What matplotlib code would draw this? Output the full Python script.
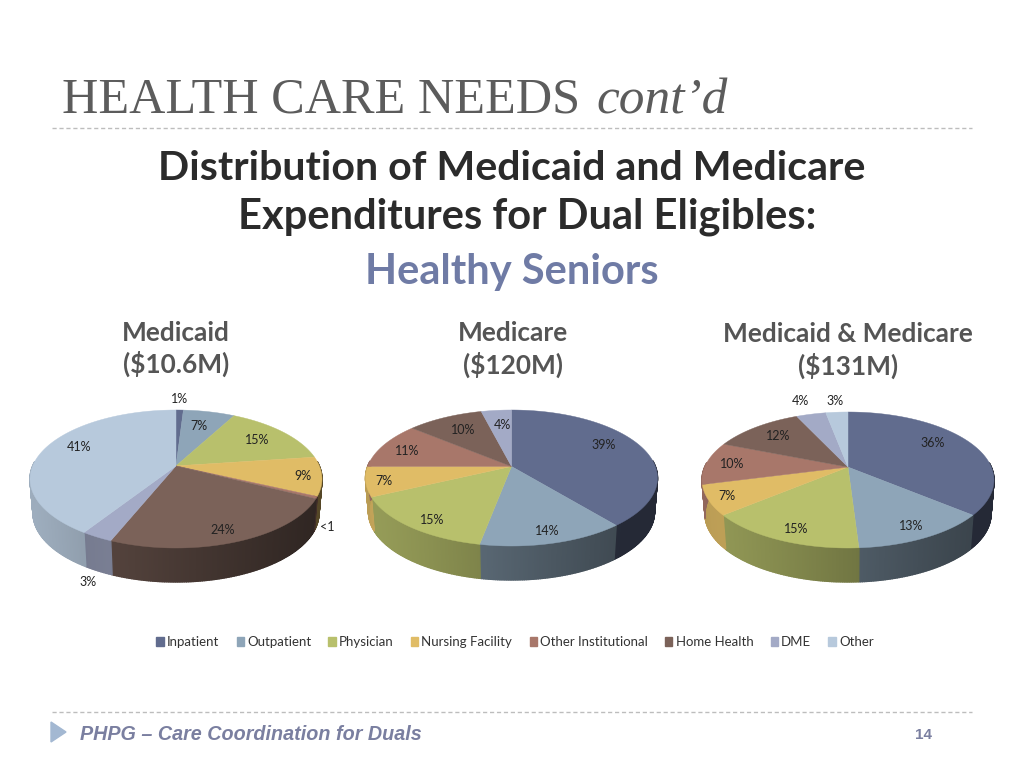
import numpy as np
import matplotlib
matplotlib.use('Agg')
import matplotlib.pyplot as plt
from matplotlib.colors import to_rgb
from matplotlib.patches import Patch

categories = ['Inpatient', 'Outpatient', 'Physician', 'Nursing Facility',
              'Other Institutional', 'Home Health', 'DME', 'Other']
colors = ['#616c8e', '#8ea5b8', '#b8c06c', '#e0bc66',
          '#a8776a', '#7b6259', '#a3aac6', '#b7c9dc']

medicaid = [1, 7, 15, 9, 0.5, 24, 3, 41]
medicare = [39, 14, 15, 7, 11, 10, 4, 0]
both = [36, 13, 15, 7, 10, 12, 4, 3]

medicaid_labels = ['1%', '7%', '15%', '9%', '<1', '24%', '3%', '41%']
medicare_labels = ['39%', '14%', '15%', '7%', '11%', '10%', '4%']
both_labels = ['36%', '13%', '15%', '7%', '10%', '12%', '4%', '3%']

# where the labels sit, in pixels
medicaid_pos = [(180, 399), (199, 426), (257, 440), (303, 476),
                (327, 527), (223, 530), (88, 582), (79, 447)]
medicare_pos = [(604, 445), (547, 531), (432, 520), (384, 481),
                (407, 451), (463, 430), (502, 425)]
both_pos = [(933, 443), (911, 526), (796, 529), (727, 496),
            (732, 464), (778, 436), (800, 401), (835, 401)]

fig = plt.figure(figsize=(10.24, 7.68), dpi=100)
ax = fig.add_axes([0, 0, 1, 1])
ax.set_xlim(0, 1024)
ax.set_ylim(768, 0)
ax.axis('off')

SANS = 'Lato'


def rim(angle, k):
    # point on the unit circle seen from an apex pushed back by k
    sx, cx = np.sin(angle), np.cos(angle)
    b = k * cx
    s = -b + np.sqrt(b ** 2 + 1 - k ** 2)
    return s * sx, k + s * cx


def pie3d(values, cx, cy, a, b, k, depth=34):
    total = sum(values)
    edges = np.cumsum([0] + list(values)) / total * 2 * np.pi
    # side wall first, the top face goes over it
    for i, v in enumerate(values):
        if v == 0:
            continue
        angles = np.linspace(edges[i], edges[i + 1], max(int(v * 6), 6))
        x, y = rim(angles, k)
        base = np.array(to_rgb(colors[i]))
        for j in range(len(x) - 1):
            if y[j] > 0.25 and y[j + 1] > 0.25:
                continue
            u = (x[j] + x[j + 1]) / 2
            local = j / max(len(x) - 2, 1)
            shade = 0.88 - 0.25 * (u + 1) - 0.06 * local
            col = base * max(shade, 0.38)
            xs = [cx + a * x[j], cx + a * x[j + 1],
                  cx + (a - 3) * x[j + 1], cx + (a - 3) * x[j]]
            ys = [cy - b * y[j], cy - b * y[j + 1],
                  cy + depth - b * y[j + 1], cy + depth - b * y[j]]
            ax.fill(xs, ys, color=col, lw=1.0, zorder=2)
    for i, v in enumerate(values):
        if v == 0:
            continue
        angles = np.linspace(edges[i], edges[i + 1], max(int(v * 6), 6))
        x, y = rim(angles, k)
        xs = np.r_[cx, cx + a * x]
        ys = np.r_[cy - b * k, cy - b * y]
        ax.fill(xs, ys, color=colors[i], lw=0.3, zorder=3)


pie3d(medicaid, 176, 479, 146, 69, 0.19)
pie3d(medicare, 511.5, 478, 146, 68, 0.17)
pie3d(both, 848, 480, 146, 68, 0.19)

for labels, pos in [(medicaid_labels, medicaid_pos),
                    (medicare_labels, medicare_pos),
                    (both_labels, both_pos)]:
    for t, (x, y) in zip(labels, pos):
        ax.text(x, y, t, fontsize=9, family=SANS, color='#222222',
                ha='center', va='center', zorder=4)

# title
ax.text(62, 100, 'HEALTH CARE NEEDS', fontsize=36.2, family='Liberation Serif',
        color='#5c5c5c', va='center')
ax.text(596, 101, 'cont\u2019d', fontsize=37, family='Liberation Serif',
        style='italic', color='#5c5c5c', va='center')
ax.plot([52, 972], [128, 128], color='#bdbdbd', lw=1, ls=(0, (3, 2)))
ax.plot([52, 972], [712, 712], color='#bdbdbd', lw=1, ls=(0, (3, 2)))

ax.text(158, 168, 'Distribution of Medicaid and Medicare', fontsize=29.6,
        family=SANS, weight='bold', color='#2b2b2b', va='center')
ax.text(238, 217, 'Expenditures for Dual Eligibles:', fontsize=30,
        family=SANS, weight='bold', color='#2b2b2b', va='center')
ax.text(512, 272, 'Healthy Seniors', fontsize=30, family=SANS, weight='bold',
        color='#6f7ba5', ha='center', va='center')

for x, y, t in [(176, 333, 'Medicaid'), (176, 364, '($10.6M)'),
                (513, 333, 'Medicare'), (513, 365, '($120M)'),
                (848, 334, 'Medicaid & Medicare'), (848, 366, '($131M)')]:
    ax.text(x, y, t, fontsize=18.9, family=SANS, weight='bold',
            color='#555555', ha='center', va='center')

handles = [Patch(color=c, label=n) for c, n in zip(colors, categories)]
ax.legend(handles=handles, ncol=8, frameon=False, loc='center',
          bbox_to_anchor=(515 / 1024, 1 - 642 / 768),
          prop={'family': SANS, 'size': 9.5}, handlelength=0.55, handleheight=0.6,
          handletextpad=0.25, columnspacing=1.3, labelcolor='#333333')

# footer
ax.fill([51, 66, 51], [722, 732, 742], color='#a3b8d2')
ax.text(80, 734, 'PHPG \u2013 Care Coordination for Duals', fontsize=14.2,
        family='Liberation Sans', weight='bold', style='italic',
        color='#7a7fa0', va='center')
ax.text(923, 735, '14', fontsize=11, family='Liberation Sans', weight='bold',
        color='#7a7fa0', ha='center', va='center')

fig.savefig('out.png', dpi=100)
